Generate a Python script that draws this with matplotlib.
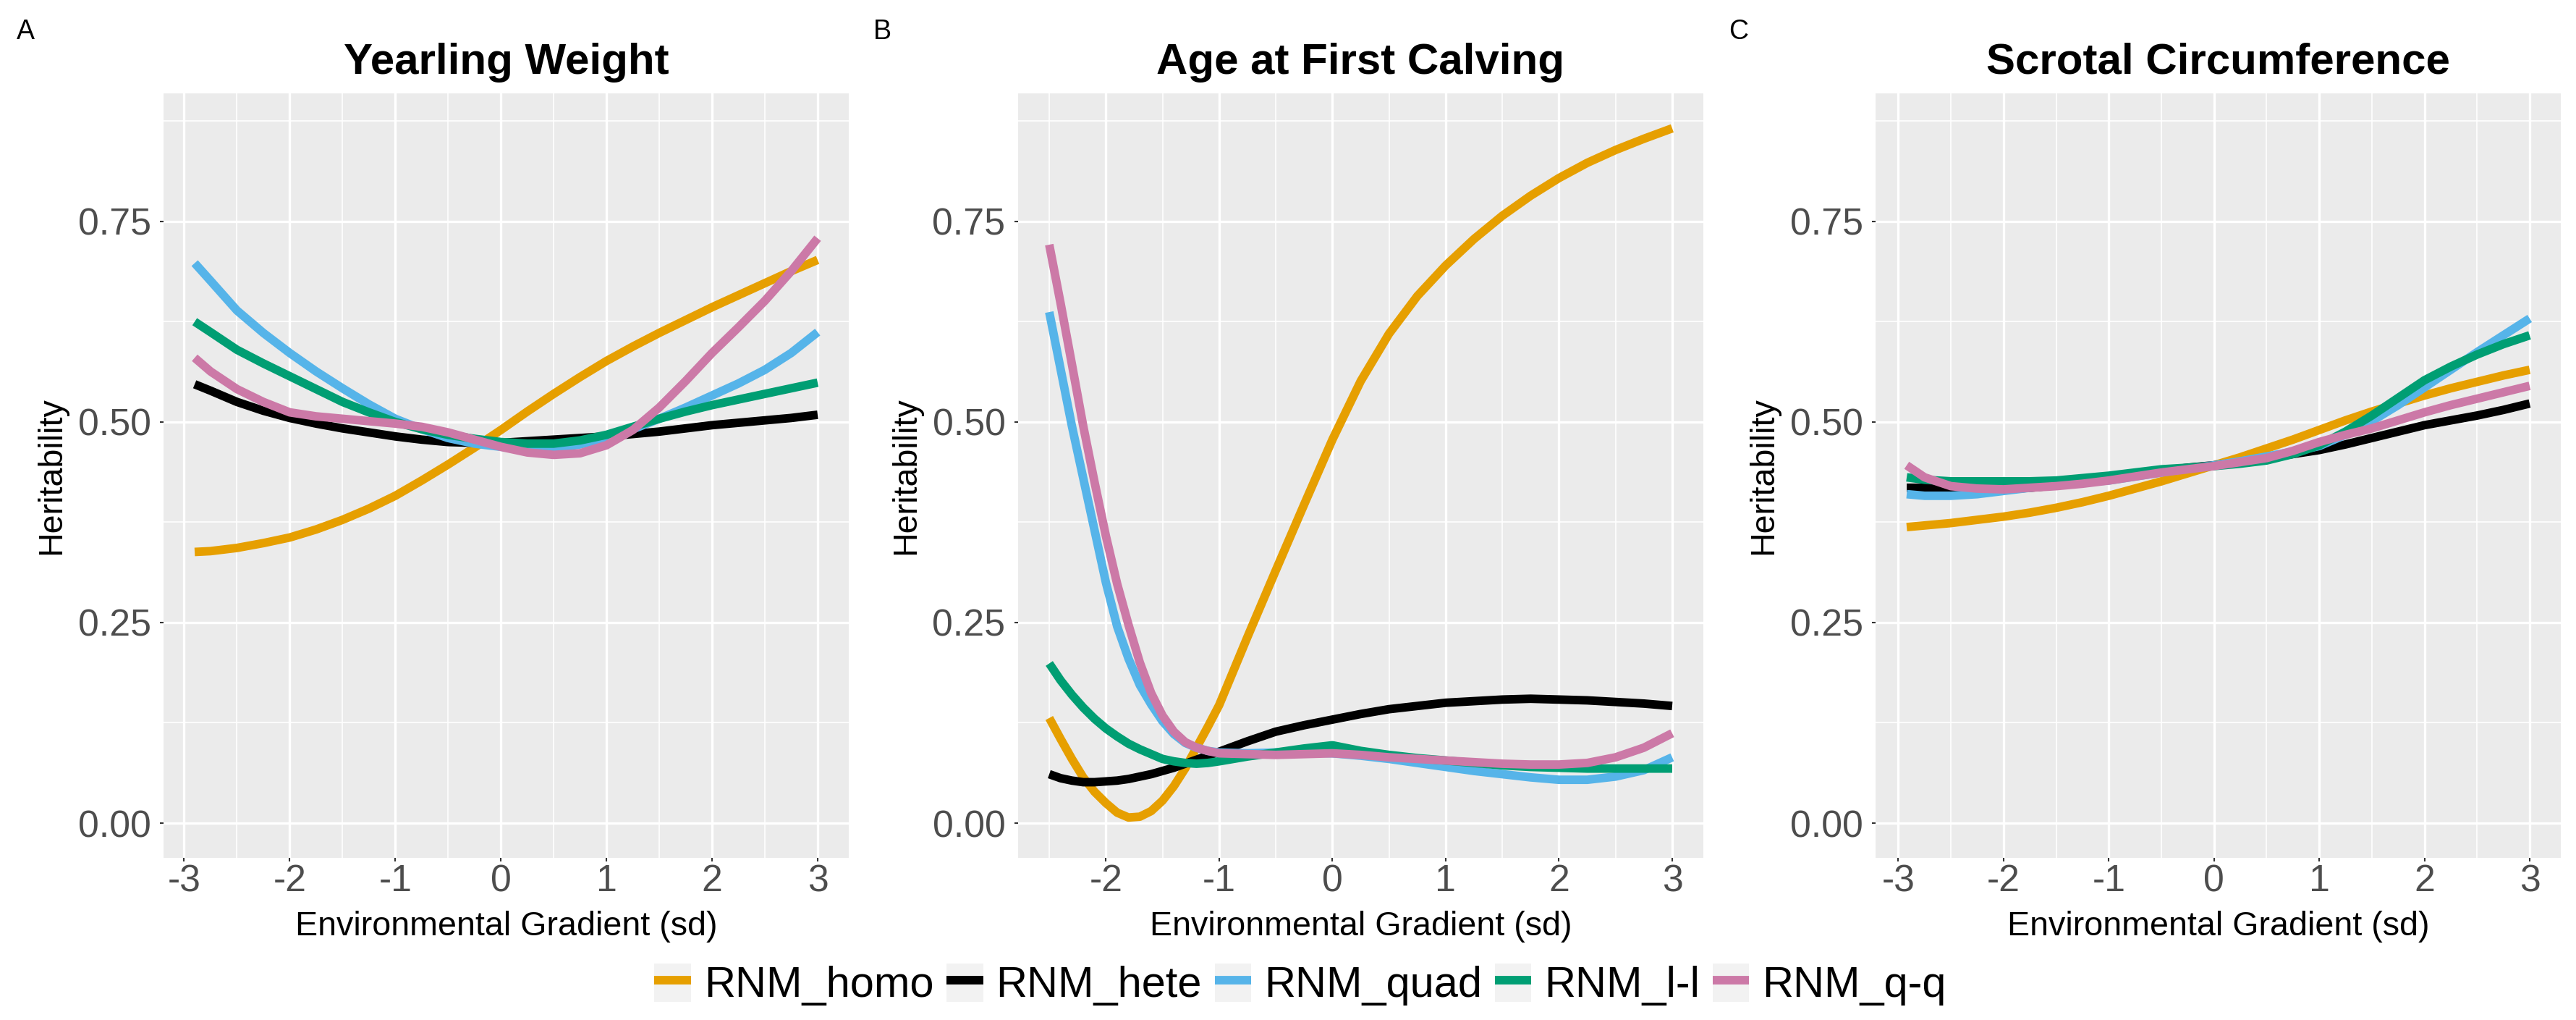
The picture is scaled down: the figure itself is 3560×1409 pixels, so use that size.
import numpy as np
import matplotlib.pyplot as plt
from matplotlib.lines import Line2D
from matplotlib.patches import Patch
from matplotlib.legend_handler import HandlerTuple
from matplotlib.ticker import MultipleLocator

plt.rcParams['font.family'] = ['Liberation Sans', 'DejaVu Sans']
plt.rcParams['axes.unicode_minus'] = False

models = ["RNM_homo", "RNM_hete", "RNM_quad", "RNM_l-l", "RNM_q-q"]
colors = ["#E69F00", "#000000", "#56B4E9", "#009E73", "#CC79A7"]

# A - Yearling Weight
x_yw = [-2.9, -2.75, -2.5, -2.25, -2, -1.75, -1.5, -1.25, -1, -0.75, -0.5, -0.25, 0,
        0.25, 0.5, 0.75, 1, 1.25, 1.5, 1.75, 2, 2.25, 2.5, 2.75, 3]
yw_homo = [0.338, 0.339, 0.343, 0.349, 0.356, 0.366, 0.378, 0.392, 0.408, 0.427, 0.447, 0.468, 0.490,
           0.513, 0.535, 0.556, 0.576, 0.594, 0.611, 0.627, 0.643, 0.658, 0.673, 0.688, 0.702]
yw_hete = [0.547, 0.539, 0.525, 0.514, 0.505, 0.498, 0.492, 0.487, 0.482, 0.478, 0.475, 0.474, 0.474,
           0.476, 0.478, 0.480, 0.482, 0.485, 0.488, 0.492, 0.496, 0.499, 0.502, 0.505, 0.509]
yw_quad = [0.698, 0.676, 0.639, 0.611, 0.586, 0.563, 0.542, 0.522, 0.504, 0.491, 0.480, 0.473, 0.469,
           0.467, 0.467, 0.472, 0.480, 0.491, 0.504, 0.518, 0.533, 0.548, 0.565, 0.586, 0.612]
yw_ll = [0.625, 0.612, 0.590, 0.573, 0.557, 0.541, 0.525, 0.512, 0.500, 0.491, 0.484, 0.479, 0.475,
         0.473, 0.473, 0.477, 0.484, 0.494, 0.504, 0.513, 0.521, 0.528, 0.535, 0.542, 0.549]
yw_qq = [0.580, 0.563, 0.541, 0.525, 0.512, 0.507, 0.504, 0.501, 0.498, 0.494, 0.487, 0.478, 0.469,
         0.462, 0.459, 0.461, 0.471, 0.490, 0.518, 0.551, 0.586, 0.618, 0.651, 0.688, 0.729]

# B - Age at First Calving
x_afc = [-2.5, -2.4, -2.3, -2.2, -2.1, -2.0, -1.9, -1.8, -1.7, -1.6, -1.5, -1.4, -1.3, -1.2,
         -1.1, -1.0, -0.75, -0.5, -0.25, 0, 0.25, 0.5, 0.75, 1.0, 1.25, 1.5, 1.75, 2.0,
         2.25, 2.5, 2.75, 3.0]
afc_homo = [0.131, 0.105, 0.080, 0.057, 0.039, 0.025, 0.013, 0.007, 0.008, 0.015, 0.028, 0.046,
            0.068, 0.094, 0.120, 0.147, 0.232, 0.315, 0.397, 0.478, 0.551, 0.610, 0.657, 0.695,
            0.728, 0.757, 0.782, 0.804, 0.823, 0.839, 0.853, 0.866]
afc_hete = [0.061, 0.056, 0.053, 0.051, 0.051, 0.052, 0.053, 0.055, 0.058, 0.061, 0.065, 0.069,
            0.074, 0.079, 0.084, 0.089, 0.102, 0.114, 0.122, 0.129, 0.136, 0.142, 0.146, 0.150,
            0.152, 0.154, 0.155, 0.154, 0.153, 0.151, 0.149, 0.146]
afc_quad = [0.637, 0.566, 0.495, 0.430, 0.365, 0.300, 0.245, 0.205, 0.172, 0.148, 0.127, 0.111,
            0.100, 0.094, 0.090, 0.088, 0.087, 0.088, 0.088, 0.087, 0.084, 0.080, 0.075, 0.070,
            0.065, 0.061, 0.057, 0.054, 0.054, 0.058, 0.066, 0.082]
afc_ll = [0.199, 0.178, 0.160, 0.144, 0.130, 0.118, 0.108, 0.099, 0.092, 0.086, 0.080, 0.077,
          0.075, 0.074, 0.075, 0.077, 0.083, 0.088, 0.093, 0.097, 0.090, 0.085, 0.081, 0.078,
          0.075, 0.072, 0.070, 0.069, 0.068, 0.068, 0.068, 0.068]
afc_qq = [0.721, 0.648, 0.572, 0.495, 0.425, 0.358, 0.298, 0.247, 0.200, 0.162, 0.134, 0.114,
          0.101, 0.094, 0.090, 0.087, 0.086, 0.085, 0.086, 0.087, 0.085, 0.082, 0.080, 0.078,
          0.076, 0.074, 0.073, 0.073, 0.075, 0.082, 0.094, 0.112]

# C - Scrotal Circumference
x_sc = [-2.92, -2.75, -2.5, -2.25, -2, -1.75, -1.5, -1.25, -1, -0.75, -0.5, -0.25, 0,
        0.25, 0.5, 0.75, 1, 1.25, 1.5, 1.75, 2, 2.25, 2.5, 2.75, 3]
sc_homo = [0.369, 0.371, 0.374, 0.378, 0.382, 0.387, 0.393, 0.400, 0.408, 0.417, 0.426, 0.436, 0.446,
           0.456, 0.467, 0.478, 0.490, 0.502, 0.513, 0.523, 0.533, 0.542, 0.550, 0.558, 0.565]
sc_hete = [0.418, 0.418, 0.417, 0.416, 0.416, 0.418, 0.421, 0.425, 0.429, 0.434, 0.439, 0.443, 0.446,
           0.450, 0.455, 0.460, 0.465, 0.472, 0.480, 0.488, 0.496, 0.502, 0.508, 0.515, 0.523]
sc_quad = [0.410, 0.408, 0.408, 0.410, 0.414, 0.418, 0.422, 0.425, 0.427, 0.432, 0.437, 0.442, 0.446,
           0.451, 0.457, 0.463, 0.470, 0.484, 0.501, 0.521, 0.543, 0.565, 0.587, 0.608, 0.629]
sc_ll = [0.431, 0.428, 0.426, 0.426, 0.426, 0.426, 0.427, 0.430, 0.433, 0.437, 0.441, 0.443, 0.445,
         0.448, 0.452, 0.460, 0.471, 0.488, 0.508, 0.530, 0.552, 0.569, 0.584, 0.597, 0.608]
sc_qq = [0.446, 0.431, 0.420, 0.417, 0.416, 0.418, 0.420, 0.423, 0.427, 0.432, 0.437, 0.441, 0.445,
         0.450, 0.455, 0.464, 0.475, 0.484, 0.492, 0.502, 0.512, 0.521, 0.529, 0.537, 0.545]

panels = [
    ("A", "Yearling Weight", x_yw, [yw_homo, yw_hete, yw_quad, yw_ll, yw_qq], (-3.195, 3.295), range(-3, 4)),
    ("B", "Age at First Calving", x_afc, [afc_homo, afc_hete, afc_quad, afc_ll, afc_qq], (-2.775, 3.275), range(-2, 4)),
    ("C", "Scrotal Circumference", x_sc, [sc_homo, sc_hete, sc_quad, sc_ll, sc_qq], (-3.216, 3.296), range(-3, 4)),
]

W, H = 3560, 1409
fig = plt.figure(figsize=(W / 100, H / 100), dpi=100)

lefts = [226, 1407, 2592]
label_x = [23, 1207, 2389]
ax_w = 947
top_px, bot_px = 129.3, 1185

for i, (tag, title, x, series, xlim, xt) in enumerate(panels):
    l = lefts[i]
    ax = fig.add_axes([l / W, 1 - bot_px / H, ax_w / W, (bot_px - top_px) / H])
    ax.set_facecolor("#EBEBEB")
    for s in ax.spines.values():
        s.set_visible(False)
    for y, c, name in zip(series, colors, models):
        ax.plot(x, y, color=c, lw=8.5, solid_capstyle="butt", solid_joinstyle="round", label=name)
    ax.set_xlim(*xlim)
    ax.set_ylim(-0.0433, 0.9093)
    ax.set_xticks(list(xt))
    ax.xaxis.set_minor_locator(MultipleLocator(0.5))
    ax.set_yticks([0, 0.25, 0.5, 0.75])
    ax.set_yticklabels(["0.00", "0.25", "0.50", "0.75"])
    ax.yaxis.set_minor_locator(MultipleLocator(0.125))
    ax.grid(which="major", color="white", lw=2.4)
    ax.grid(which="minor", color="white", lw=1.2)
    ax.set_axisbelow(True)
    ax.tick_params(which="major", length=3.6, width=1.5, color="#333333",
                   labelsize=37.4, labelcolor="#4D4D4D")
    ax.tick_params(axis="y", pad=9)
    ax.tick_params(axis="x", pad=2.5)
    ax.tick_params(which="minor", length=0)

    cx = (l + ax_w / 2) / W
    fig.text(cx, 1 - 102 / H, title, ha="center", va="baseline", fontsize=43.2, fontweight="bold")
    fig.text(cx, 1 - 1292 / H, "Environmental Gradient (sd)", ha="center", va="baseline", fontsize=33.6)
    fig.text((l - 155) / W, 1 - (top_px + bot_px) / 2 / H, "Heritability", rotation=90,
             ha="center", va="center", fontsize=33.6)
    fig.text(label_x[i] / W, 1 - 53.5 / H, tag, ha="left", va="baseline", fontsize=27)

# legend keys: light grey box with the coloured segment on top
handles = [(Patch(facecolor="#F2F2F2", edgecolor="none"),
            Line2D([0], [0], color=c, lw=8.5, solid_capstyle="butt")) for c in colors]
fig.legend(handles, models, loc="center", bbox_to_anchor=(1797 / W, 1 - 1360 / H), ncol=5,
           frameon=False, fontsize=42.8, handlelength=0.85, handleheight=1.0,
           handletextpad=0.3, columnspacing=0.3,
           handler_map={tuple: HandlerTuple(ndivide=1, pad=0)})

fig.savefig("out.png", dpi=100)
